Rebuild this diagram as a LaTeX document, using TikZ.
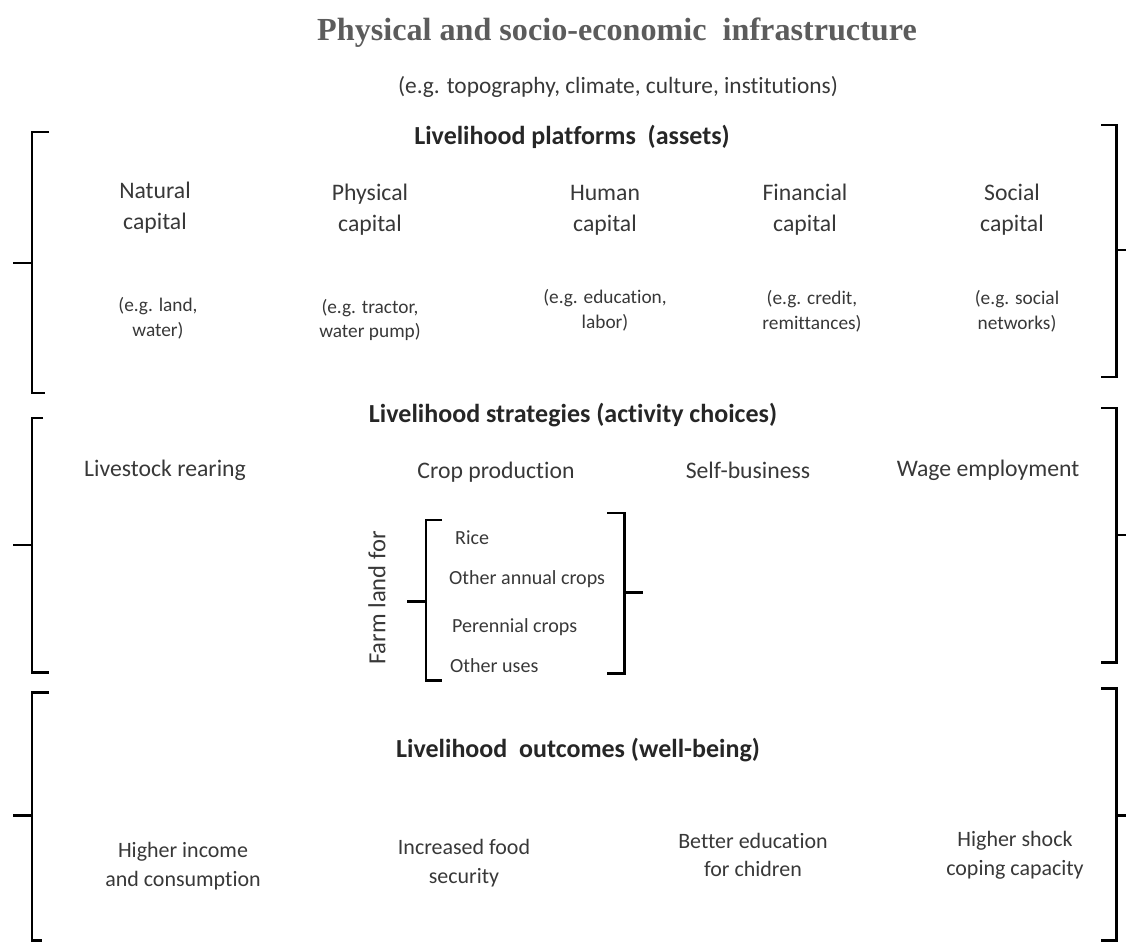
\documentclass[tikz,border=0pt]{standalone}
\usepackage{fontspec}
\setmainfont{Carlito}[Ligatures=NoCommon]
\newfontfamily\titlefont{Liberation Serif}
\usepackage{tikz}
\usetikzlibrary{positioning}
\definecolor{inkgray}{rgb}{0.22,0.22,0.22}
\definecolor{titlegray}{rgb}{0.36,0.36,0.36}

\begin{document}
\begin{tikzpicture}[x=0.02cm, y=-0.02cm,
    title/.style={font=\titlefont\bfseries\fontsize{18.3}{21}\selectfont, text=titlegray},
    head/.style={font=\bfseries\fontsize{14.8}{17}\selectfont, text=black!85},
    item/.style={font=\fontsize{13.5}{17.6}\selectfont, text=inkgray, align=center},
    note/.style={font=\fontsize{11}{14}\selectfont, text=inkgray, align=center},
    crop/.style={font=\fontsize{11.4}{13}\selectfont, text=inkgray, anchor=west},
    outc/.style={font=\fontsize{12.5}{16.4}\selectfont, text=inkgray, align=center},
    brack/.style={line width=1.7pt, black}
]
\useasboundingbox (0,0) rectangle (1126,943);

\node[title] (Infra) at (617,33) {Physical and socio-economic\ \ infrastructure};
\node[item, font=\fontsize{13.3}{15}\selectfont] (InfraEg) at (618,87)
    {(e.g. topography, climate, culture, institutions)};

% assets
\node[head] (Plat) at (572,137) {Livelihood platforms\ \ (assets)};
\node[item] (Nat) at (155,208) {Natural\\capital};
\node[item] (Phy) at (370,210) {Physical\\capital};
\node[item] (Hum) at (605,210) {Human\\capital};
\node[item] (Fin) at (805,210) {Financial\\capital};
\node[item] (Soc) at (1012,210) {Social\\capital};
\node[note] (NatEg) at (158,318) {(e.g. land,\\water)};
\node[note] (PhyEg) at (370,320) {(e.g. tractor,\\water pump)};
\node[note] (HumEg) at (605,310) {(e.g. education,\\labor)};
\node[note] (FinEg) at (812,311) {(e.g. credit,\\remittances)};
\node[note] (SocEg) at (1017,311) {(e.g. social\\networks)};

% strategies
\node[head] (Strat) at (573,415) {Livelihood strategies (activity choices)};
\node[item] (Live) at (165,470) {Livestock rearing};
\node[item] (Crop) at (496,472) {Crop production};
\node[item] (Self) at (748,470) {Self-business};
\node[item] (Wage) at (988,470) {Wage employment};
\node[item, font=\fontsize{14}{16}\selectfont, rotate=90] (Farm) at (377,598) {Farm land for};
\node[crop] (Rice) at (449,538) {Rice};
\node[crop] (Annual) at (443,579) {Other annual crops};
\node[crop] (Peren) at (446,627) {Perennial crops};
\node[crop] (Other) at (444,666) {Other uses};

% outcomes
\node[head] (Outc) at (578,750) {Livelihood\ \ outcomes (well-being)};
\node[outc] (Inc) at (183,866) {Higher income\\and consumption};
\node[outc] (Food) at (464,863) {Increased food\\security};
\node[outc] (Edu) at (753,855) {Better education\\for chidren};
\node[outc] (Shock) at (1015,855) {Higher shock\\coping capacity};

% outer brackets
\draw[brack] (49,132) -- (32,132) -- (32,393) -- (45,393);
\draw[brack] (13,263) -- (32,263);
\draw[brack] (43,418) -- (32,418) -- (32,672) -- (49,672);
\draw[brack] (13,545) -- (32,545);
\draw[brack] (49,692) -- (32,692) -- (32,940) -- (42,940);
\draw[brack] (13,815) -- (32,815);

\draw[brack] (1101,125) -- (1116,125) -- (1116,377) -- (1101,377);
\draw[brack] (1116,250) -- (1126,250);
\draw[brack] (1101,408) -- (1116,408) -- (1116,662) -- (1101,662);
\draw[brack] (1116,535) -- (1126,535);
\draw[brack] (1101,688) -- (1116,688) -- (1116,940) -- (1101,940);
\draw[brack] (1116,815) -- (1126,815);

% farm land bracket
\draw[brack] (442,520) -- (426,520) -- (426,680) -- (442,680);
\draw[brack] (407,601) -- (426,601);
\draw[brack] (607,513) -- (624,513) -- (624,673) -- (607,673);
\draw[brack] (624,592) -- (643,592);
\end{tikzpicture}
\end{document}
